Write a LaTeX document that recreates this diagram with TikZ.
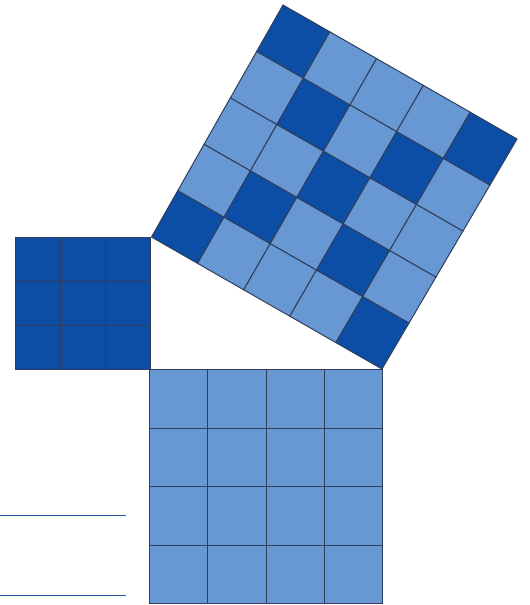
\documentclass[tikz,border=0pt]{standalone}
\definecolor{darkb}{RGB}{12,78,165}
\definecolor{lightb}{RGB}{104,152,212}
\definecolor{gridc}{RGB}{48,62,92}
\definecolor{rulec}{RGB}{30,90,155}
\begin{document}
\begin{tikzpicture}[x=1pt,y=-1pt,
  cellline/.style={draw=gridc,line width=1pt},
  rulestyle/.style={draw=rulec,line width=1pt}]
\useasboundingbox (0,0) rectangle (530,605);
% left square 3x3
\fill[darkb] (15,237.5) rectangle (150,369.5);
\foreach \k in {1,2}{
  \draw[cellline] ({15+\k*45},237.5) -- ({15+\k*45},369.5);
  \draw[cellline] (15,{237.5+\k*44}) -- (150,{237.5+\k*44});
}
\draw[cellline] (15,237.5) rectangle (150,369.5);
% bottom square 4x4
\fill[lightb] (149.5,369.5) rectangle (382.5,603.5);
\foreach \k in {1,2,3}{
  \draw[cellline] ({149.5+\k*58.25},369.5) -- ({149.5+\k*58.25},603.5);
  \draw[cellline] (149.5,{369.5+\k*58.5}) -- (382.5,{369.5+\k*58.5});
}
\draw[cellline] (149.5,369.5) rectangle (382.5,603.5);
% tilted square 5x5 grid points
\foreach \i in {0,...,5}{
  \foreach \j in {0,...,5}{
    \pgfmathsetmacro\s{\i/5}
    \pgfmathsetmacro\t{\j/5}
    \coordinate (p-\i-\j) at ({151.5+230.5*\s+131.5*\t+3.5*\s*\t},{237+132*\s-232*\t+2*\s*\t});
  }
}
\foreach \i [evaluate=\i as \ii using int(\i+1)] in {0,...,4}{
  \foreach \j [evaluate=\j as \jj using int(\j+1)] in {0,...,4}{
    \pgfmathtruncatemacro\isdark{or(\i==\j,\i+\j==4)}
    \def\cc{lightb}
    \ifnum\isdark=1 \def\cc{darkb}\fi
    \filldraw[fill=\cc,cellline] (p-\i-\j) -- (p-\ii-\j) -- (p-\ii-\jj) -- (p-\i-\jj) -- cycle;
  }
}
% rules at lower left
\coordinate (r1a) at (0,515);
\coordinate (r1b) at (126,515);
\coordinate (r2a) at (0,595);
\coordinate (r2b) at (126,595);
\draw[rulestyle] (r1a) -- (r1b);
\draw[rulestyle] (r2a) -- (r2b);
\end{tikzpicture}
\end{document}
